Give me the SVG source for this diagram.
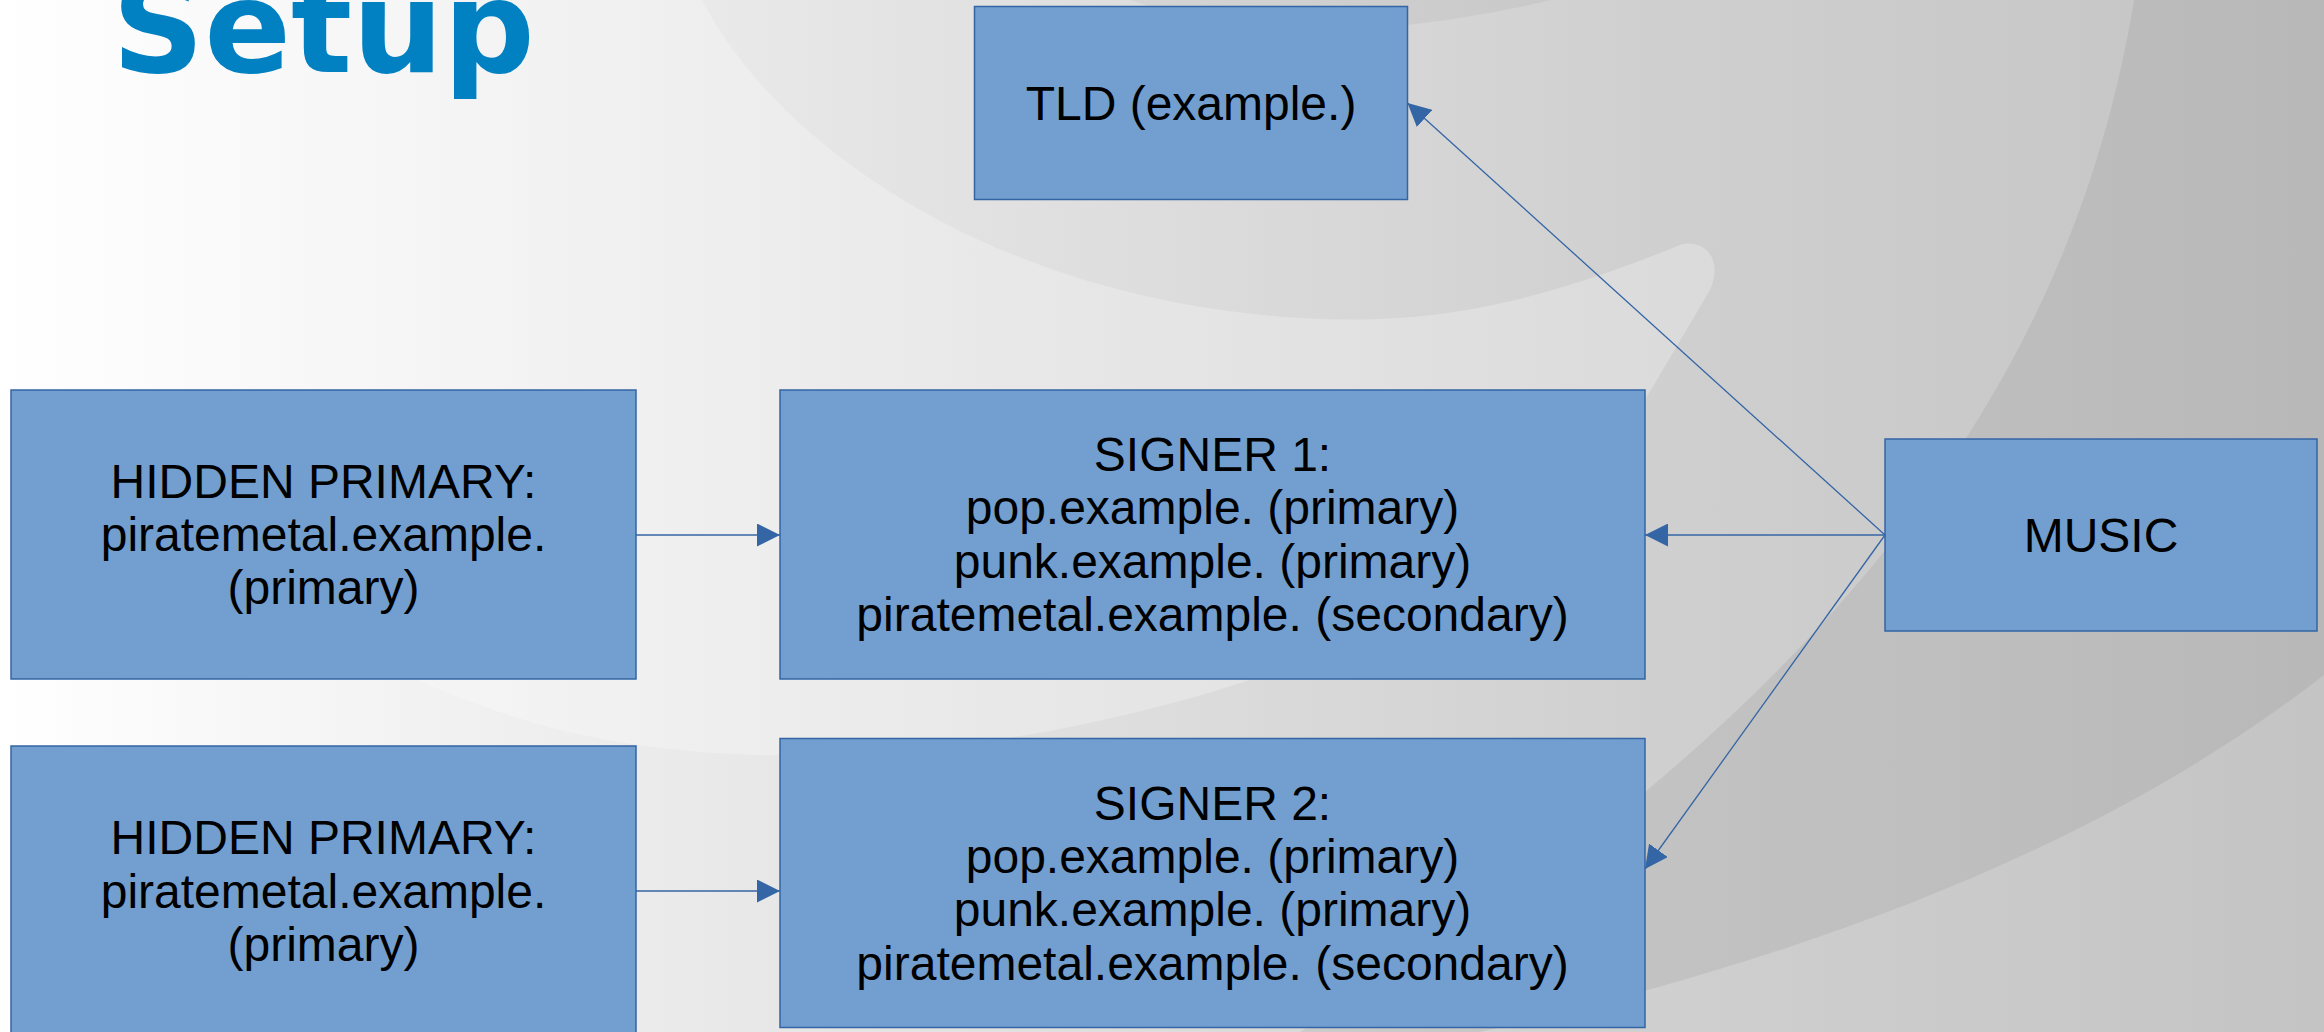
<svg xmlns="http://www.w3.org/2000/svg" width="2324" height="1032" viewBox="0 0 2324 1032">
  <defs>
    <linearGradient id="bg" x1="0" y1="0" x2="1" y2="0">
      <stop offset="0" stop-color="#ffffff"/>
      <stop offset="0.35" stop-color="#e6e6e6"/>
      <stop offset="0.7" stop-color="#d0d0d0"/>
      <stop offset="1" stop-color="#c4c4c4"/>
    </linearGradient>
    <marker id="arrow" markerUnits="userSpaceOnUse" markerWidth="23" markerHeight="23" refX="23" refY="11.5" orient="auto">
      <path d="M0,0 L23,11.5 L0,23 Z" fill="#3465a4"/>
    </marker>
    <style>
      .box { fill: #729fcf; stroke: #3465a4; stroke-width: 1.5; }
      .lbl { font-family: "Liberation Sans", Arial, sans-serif; font-size: 48px; fill: #000000; text-anchor: middle; }
      .conn { stroke: #3465a4; stroke-width: 1.3; fill: none; marker-end: url(#arrow); }
      .title { font-family: "DejaVu Sans", sans-serif; font-weight: bold; font-size: 128px; fill: #0180c2; }
    </style>
  </defs>

  <g id="background">
    <rect x="0" y="0" width="2324" height="1032" fill="url(#bg)"/>
    <path d="M0,233 C70,430 250,650 560,730 C850,800 1250,720 1520,560 L1645,400 L1710,290 C1725,255 1700,238 1680,245 C1520,310 1420,325 1300,318 C1000,300 780,150 702,0 L0,0 Z" fill="#ffffff" opacity="0.25"/>
    <path d="M1130,0 C1200,25 1300,35 1380,28 C1460,20 1520,8 1550,0 Z" fill="#000000" opacity="0.04"/>
    <path d="M2134,0 C2080,330 1900,600 1560,860 L1300,1032 L1480,1032 C1800,960 2100,850 2324,675 L2324,0 Z" fill="#000000" opacity="0.06"/>
  </g>

  <text class="title" x="112" y="72">Setup</text>

  <g id="connectors">
    <line class="conn" x1="636" y1="535" x2="780" y2="535"/>
    <line class="conn" x1="636" y1="891" x2="780" y2="891"/>
    <line class="conn" x1="1885" y1="535" x2="1645" y2="535"/>
    <line class="conn" x1="1885" y1="535" x2="1407.5" y2="103"/>
    <line class="conn" x1="1885" y1="535" x2="1645" y2="869"/>
  </g>

  <g id="tld">
    <rect class="box" x="974.5" y="6.5" width="433" height="193"/>
    <text class="lbl" x="1191" y="119.5">TLD (example.)</text>
  </g>

  <g id="hidden1">
    <rect class="box" x="11" y="390" width="625" height="289"/>
    <text class="lbl" x="323.5" y="497.7">HIDDEN PRIMARY:</text>
    <text class="lbl" x="323.5" y="551">piratemetal.example.</text>
    <text class="lbl" x="323.5" y="604.3">(primary)</text>
  </g>

  <g id="signer1">
    <rect class="box" x="780" y="390" width="865" height="289"/>
    <text class="lbl" x="1212.5" y="470.8">SIGNER 1:</text>
    <text class="lbl" x="1212.5" y="524.2">pop.example. (primary)</text>
    <text class="lbl" x="1212.5" y="577.5">punk.example. (primary)</text>
    <text class="lbl" x="1212.5" y="630.8">piratemetal.example. (secondary)</text>
  </g>

  <g id="music">
    <rect class="box" x="1885" y="439" width="432" height="192"/>
    <text class="lbl" x="2101" y="551.5">MUSIC</text>
  </g>

  <g id="hidden2">
    <rect class="box" x="11" y="746" width="625" height="300"/>
    <text class="lbl" x="323.5" y="854.2">HIDDEN PRIMARY:</text>
    <text class="lbl" x="323.5" y="907.5">piratemetal.example.</text>
    <text class="lbl" x="323.5" y="960.8">(primary)</text>
  </g>

  <g id="signer2">
    <rect class="box" x="780" y="738.5" width="865" height="289"/>
    <text class="lbl" x="1212.5" y="819.5">SIGNER 2:</text>
    <text class="lbl" x="1212.5" y="872.8">pop.example. (primary)</text>
    <text class="lbl" x="1212.5" y="926.2">punk.example. (primary)</text>
    <text class="lbl" x="1212.5" y="979.5">piratemetal.example. (secondary)</text>
  </g>
</svg>
